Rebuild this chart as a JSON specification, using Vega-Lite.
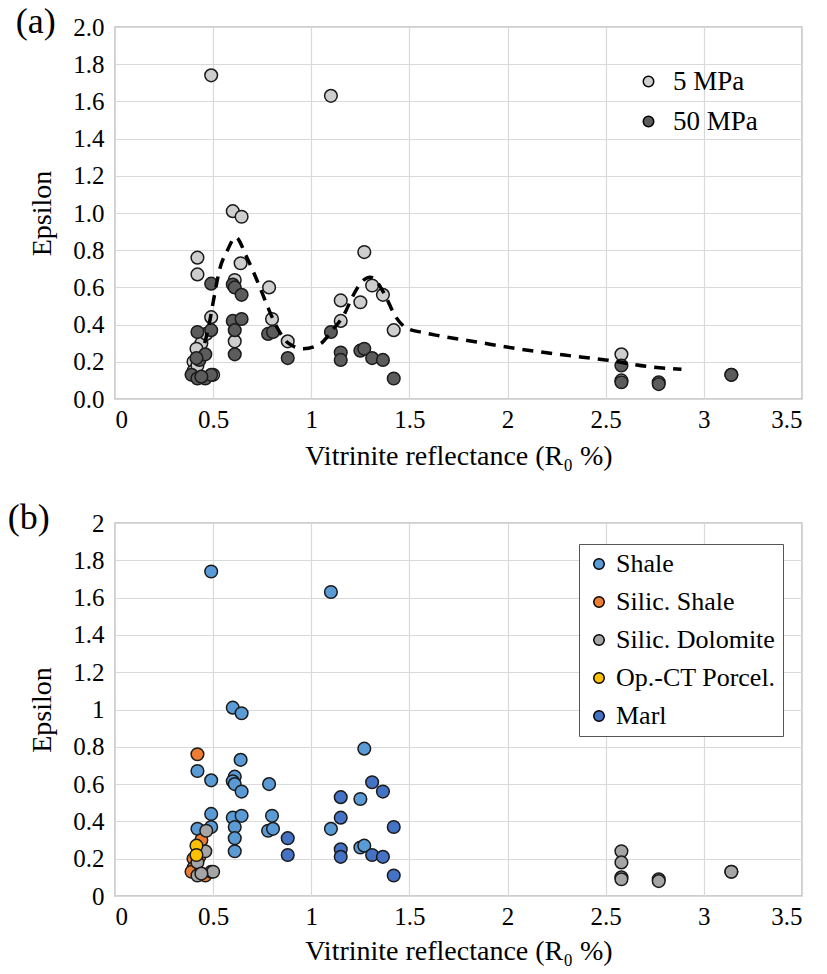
{
  "$schema": "https://vega.github.io/schema/vega-lite/v6.json",
  "background": "white",
  "padding": {"left": 7, "top": 3, "right": 10, "bottom": 5},
  "config": {
    "font": "Liberation Serif",
    "view": {"stroke": "#BFBFBF", "strokeWidth": 1.5},
    "axis": {
      "labelFont": "Liberation Serif", "titleFont": "Liberation Serif",
      "labelFontSize": 25, "titleFontSize": 28, "titleFontWeight": "normal",
      "labelColor": "#000", "titleColor": "#000",
      "grid": true, "gridColor": "#D9D9D9", "gridWidth": 1.2,
      "domain": false, "ticks": false, "labelOverlap": false
    },
    "legend": {
      "labelFont": "Liberation Serif", "labelFontSize": 26, "labelColor": "#000",
      "symbolType": "circle", "symbolSize": 110, "symbolStrokeColor": "#000", "symbolStrokeWidth": 1.5,
      "labelBaseline": "middle", "labelLimit": 400
    },
    "title": {"font": "Liberation Serif", "fontSize": 36, "fontWeight": "normal", "color": "#000", "anchor": "start", "frame": "bounds"},
    "concat": {"spacing": 28}
  },
  "datasets": {
    "pts": [
      {"ro": 0.49, "eps": 1.74, "pressure": "5 MPa", "lith": "Shale"},
      {"ro": 1.10, "eps": 1.63, "pressure": "5 MPa", "lith": "Shale"},
      {"ro": 0.60, "eps": 1.01, "pressure": "5 MPa", "lith": "Shale"},
      {"ro": 0.645, "eps": 0.98, "pressure": "5 MPa", "lith": "Shale"},
      {"ro": 0.42, "eps": 0.67, "pressure": "5 MPa", "lith": "Shale"},
      {"ro": 0.64, "eps": 0.73, "pressure": "5 MPa", "lith": "Shale"},
      {"ro": 0.61, "eps": 0.64, "pressure": "5 MPa", "lith": "Shale"},
      {"ro": 0.60, "eps": 0.615, "pressure": "50 MPa", "lith": "Shale"},
      {"ro": 0.61, "eps": 0.60, "pressure": "50 MPa", "lith": "Shale"},
      {"ro": 0.645, "eps": 0.56, "pressure": "50 MPa", "lith": "Shale"},
      {"ro": 0.49, "eps": 0.62, "pressure": "50 MPa", "lith": "Shale"},
      {"ro": 0.785, "eps": 0.60, "pressure": "5 MPa", "lith": "Shale"},
      {"ro": 1.27, "eps": 0.79, "pressure": "5 MPa", "lith": "Shale"},
      {"ro": 1.25, "eps": 0.52, "pressure": "5 MPa", "lith": "Shale"},
      {"ro": 1.10, "eps": 0.36, "pressure": "50 MPa", "lith": "Shale"},
      {"ro": 1.25, "eps": 0.26, "pressure": "50 MPa", "lith": "Shale"},
      {"ro": 1.27, "eps": 0.27, "pressure": "50 MPa", "lith": "Shale"},
      {"ro": 0.49, "eps": 0.44, "pressure": "5 MPa", "lith": "Shale"},
      {"ro": 0.49, "eps": 0.37, "pressure": "50 MPa", "lith": "Shale"},
      {"ro": 0.42, "eps": 0.36, "pressure": "50 MPa", "lith": "Shale"},
      {"ro": 0.60, "eps": 0.42, "pressure": "50 MPa", "lith": "Shale"},
      {"ro": 0.645, "eps": 0.43, "pressure": "50 MPa", "lith": "Shale"},
      {"ro": 0.61, "eps": 0.37, "pressure": "50 MPa", "lith": "Shale"},
      {"ro": 0.61, "eps": 0.31, "pressure": "5 MPa", "lith": "Shale"},
      {"ro": 0.61, "eps": 0.24, "pressure": "50 MPa", "lith": "Shale"},
      {"ro": 0.80, "eps": 0.43, "pressure": "5 MPa", "lith": "Shale"},
      {"ro": 0.78, "eps": 0.35, "pressure": "50 MPa", "lith": "Shale"},
      {"ro": 0.805, "eps": 0.36, "pressure": "50 MPa", "lith": "Shale"},
      {"ro": 0.42, "eps": 0.76, "pressure": "5 MPa", "lith": "Silic. Shale"},
      {"ro": 0.44, "eps": 0.30, "pressure": "5 MPa", "lith": "Silic. Shale"},
      {"ro": 0.40, "eps": 0.20, "pressure": "5 MPa", "lith": "Silic. Shale"},
      {"ro": 0.40, "eps": 0.15, "pressure": "5 MPa", "lith": "Silic. Shale"},
      {"ro": 0.39, "eps": 0.13, "pressure": "50 MPa", "lith": "Silic. Shale"},
      {"ro": 0.46, "eps": 0.11, "pressure": "50 MPa", "lith": "Silic. Shale"},
      {"ro": 0.43, "eps": 0.21, "pressure": "50 MPa", "lith": "Silic. Shale"},
      {"ro": 0.465, "eps": 0.35, "pressure": "5 MPa", "lith": "Silic. Dolomite"},
      {"ro": 0.46, "eps": 0.24, "pressure": "50 MPa", "lith": "Silic. Dolomite"},
      {"ro": 0.42, "eps": 0.18, "pressure": "5 MPa", "lith": "Silic. Dolomite"},
      {"ro": 0.42, "eps": 0.11, "pressure": "50 MPa", "lith": "Silic. Dolomite"},
      {"ro": 0.49, "eps": 0.13, "pressure": "50 MPa", "lith": "Silic. Dolomite"},
      {"ro": 0.50, "eps": 0.13, "pressure": "5 MPa", "lith": "Silic. Dolomite"},
      {"ro": 0.44, "eps": 0.12, "pressure": "50 MPa", "lith": "Silic. Dolomite"},
      {"ro": 2.58, "eps": 0.24, "pressure": "5 MPa", "lith": "Silic. Dolomite"},
      {"ro": 2.58, "eps": 0.18, "pressure": "50 MPa", "lith": "Silic. Dolomite"},
      {"ro": 2.58, "eps": 0.10, "pressure": "5 MPa", "lith": "Silic. Dolomite"},
      {"ro": 2.58, "eps": 0.09, "pressure": "50 MPa", "lith": "Silic. Dolomite"},
      {"ro": 2.77, "eps": 0.09, "pressure": "5 MPa", "lith": "Silic. Dolomite"},
      {"ro": 2.77, "eps": 0.08, "pressure": "50 MPa", "lith": "Silic. Dolomite"},
      {"ro": 3.14, "eps": 0.13, "pressure": "5 MPa", "lith": "Silic. Dolomite"},
      {"ro": 3.14, "eps": 0.13, "pressure": "50 MPa", "lith": "Silic. Dolomite"},
      {"ro": 0.415, "eps": 0.27, "pressure": "5 MPa", "lith": "Op.-CT Porcel."},
      {"ro": 0.415, "eps": 0.22, "pressure": "50 MPa", "lith": "Op.-CT Porcel."},
      {"ro": 0.88, "eps": 0.31, "pressure": "5 MPa", "lith": "Marl"},
      {"ro": 0.88, "eps": 0.22, "pressure": "50 MPa", "lith": "Marl"},
      {"ro": 1.15, "eps": 0.53, "pressure": "5 MPa", "lith": "Marl"},
      {"ro": 1.15, "eps": 0.42, "pressure": "5 MPa", "lith": "Marl"},
      {"ro": 1.15, "eps": 0.25, "pressure": "50 MPa", "lith": "Marl"},
      {"ro": 1.15, "eps": 0.21, "pressure": "50 MPa", "lith": "Marl"},
      {"ro": 1.31, "eps": 0.61, "pressure": "5 MPa", "lith": "Marl"},
      {"ro": 1.365, "eps": 0.56, "pressure": "5 MPa", "lith": "Marl"},
      {"ro": 1.42, "eps": 0.37, "pressure": "5 MPa", "lith": "Marl"},
      {"ro": 1.31, "eps": 0.22, "pressure": "50 MPa", "lith": "Marl"},
      {"ro": 1.365, "eps": 0.21, "pressure": "50 MPa", "lith": "Marl"},
      {"ro": 1.42, "eps": 0.11, "pressure": "50 MPa", "lith": "Marl"}
    ],
    "trend": [
      {"ro": 0.457, "eps": 0.30}, {"ro": 0.483, "eps": 0.42}, {"ro": 0.50, "eps": 0.52},
      {"ro": 0.534, "eps": 0.70}, {"ro": 0.573, "eps": 0.80}, {"ro": 0.615, "eps": 0.87},
      {"ro": 0.67, "eps": 0.765}, {"ro": 0.712, "eps": 0.667}, {"ro": 0.747, "eps": 0.577},
      {"ro": 0.78, "eps": 0.49}, {"ro": 0.823, "eps": 0.39}, {"ro": 0.883, "eps": 0.30},
      {"ro": 0.96, "eps": 0.27}, {"ro": 1.05, "eps": 0.30}, {"ro": 1.10, "eps": 0.36},
      {"ro": 1.17, "eps": 0.46}, {"ro": 1.21, "eps": 0.55}, {"ro": 1.257, "eps": 0.63},
      {"ro": 1.30, "eps": 0.655}, {"ro": 1.38, "eps": 0.55}, {"ro": 1.42, "eps": 0.46},
      {"ro": 1.48, "eps": 0.385}, {"ro": 1.57, "eps": 0.357}, {"ro": 1.65, "eps": 0.34},
      {"ro": 1.835, "eps": 0.308}, {"ro": 2.04, "eps": 0.272}, {"ro": 2.29, "eps": 0.236},
      {"ro": 2.50, "eps": 0.21}, {"ro": 2.72, "eps": 0.174}, {"ro": 2.886, "eps": 0.16}
    ]
  },
  "resolve": {"scale": {"color": "independent"}, "legend": {"color": "independent"}},
  "vconcat": [
    {
      "title": {"text": "(a)", "baseline": "top", "dy": 30, "dx": -13},
      "width": 687,
      "height": 372,
      "encoding": {
        "x": {"field": "ro", "type": "quantitative", "scale": {"domain": [0, 3.5], "nice": false},
              "axis": {"values": [0, 0.5, 1, 1.5, 2, 2.5, 3, 3.5], "format": "~g", "title": "Vitrinite reflectance (R₀ %)", "labelPadding": 8, "titlePadding": 10}},
        "y": {"field": "eps", "type": "quantitative", "scale": {"domain": [0, 2], "nice": false},
              "axis": {"values": [0, 0.2, 0.4, 0.6, 0.8, 1, 1.2, 1.4, 1.6, 1.8, 2], "format": ".1f", "title": "Epsilon", "labelPadding": 11, "titlePadding": 16}}
      },
      "layer": [
        {
          "data": {"name": "pts"},
          "mark": {"type": "point", "filled": true, "shape": "circle", "size": 160, "stroke": "#1a1a1a", "strokeWidth": 1.5, "opacity": 1},
          "encoding": {
            "color": {"field": "pressure", "type": "nominal", "scale": {"domain": ["5 MPa", "50 MPa"], "range": ["#CECECE", "#5C5C5C"]},
                      "legend": {"title": null, "orient": "none", "legendX": 520, "legendY": 41, "labelOffset": 11, "rowPadding": 12, "labelFontSize": 27}},
            "order": {"field": "pressure"}
          }
        },
        {
          "data": {"name": "trend"},
          "mark": {"type": "line", "color": "#000", "strokeWidth": 3.5, "strokeDash": [11, 8], "interpolate": "monotone"},
          "encoding": {}
        }
      ]
    },
    {
      "title": {"text": "(b)", "baseline": "top", "dy": 30, "dx": -21},
      "width": 687,
      "height": 373,
      "data": {"name": "pts"},
      "mark": {"type": "point", "filled": true, "shape": "circle", "size": 160, "stroke": "#1a1a1a", "strokeWidth": 1.5, "opacity": 1},
      "encoding": {
        "x": {"field": "ro", "type": "quantitative", "scale": {"domain": [0, 3.5], "nice": false},
              "axis": {"values": [0, 0.5, 1, 1.5, 2, 2.5, 3, 3.5], "format": "~g", "title": "Vitrinite reflectance (R₀ %)", "labelPadding": 8, "titlePadding": 8}},
        "y": {"field": "eps", "type": "quantitative", "scale": {"domain": [0, 2], "nice": false},
              "axis": {"values": [0, 0.2, 0.4, 0.6, 0.8, 1, 1.2, 1.4, 1.6, 1.8, 2], "format": "~g", "title": "Epsilon", "labelPadding": 11, "titlePadding": 16}},
        "color": {"field": "lith", "type": "nominal",
                  "scale": {"domain": ["Shale", "Silic. Shale", "Silic. Dolomite", "Op.-CT Porcel.", "Marl"], "range": ["#5B9BD5", "#ED7D31", "#A5A5A5", "#FFC000", "#4472C4"]},
                  "legend": {"title": null, "orient": "none", "legendX": 464, "legendY": 21, "labelOffset": 4, "rowPadding": 12, "padding": 7, "strokeColor": "#555555", "fillColor": "#FFFFFF"}}
      }
    }
  ]
}
